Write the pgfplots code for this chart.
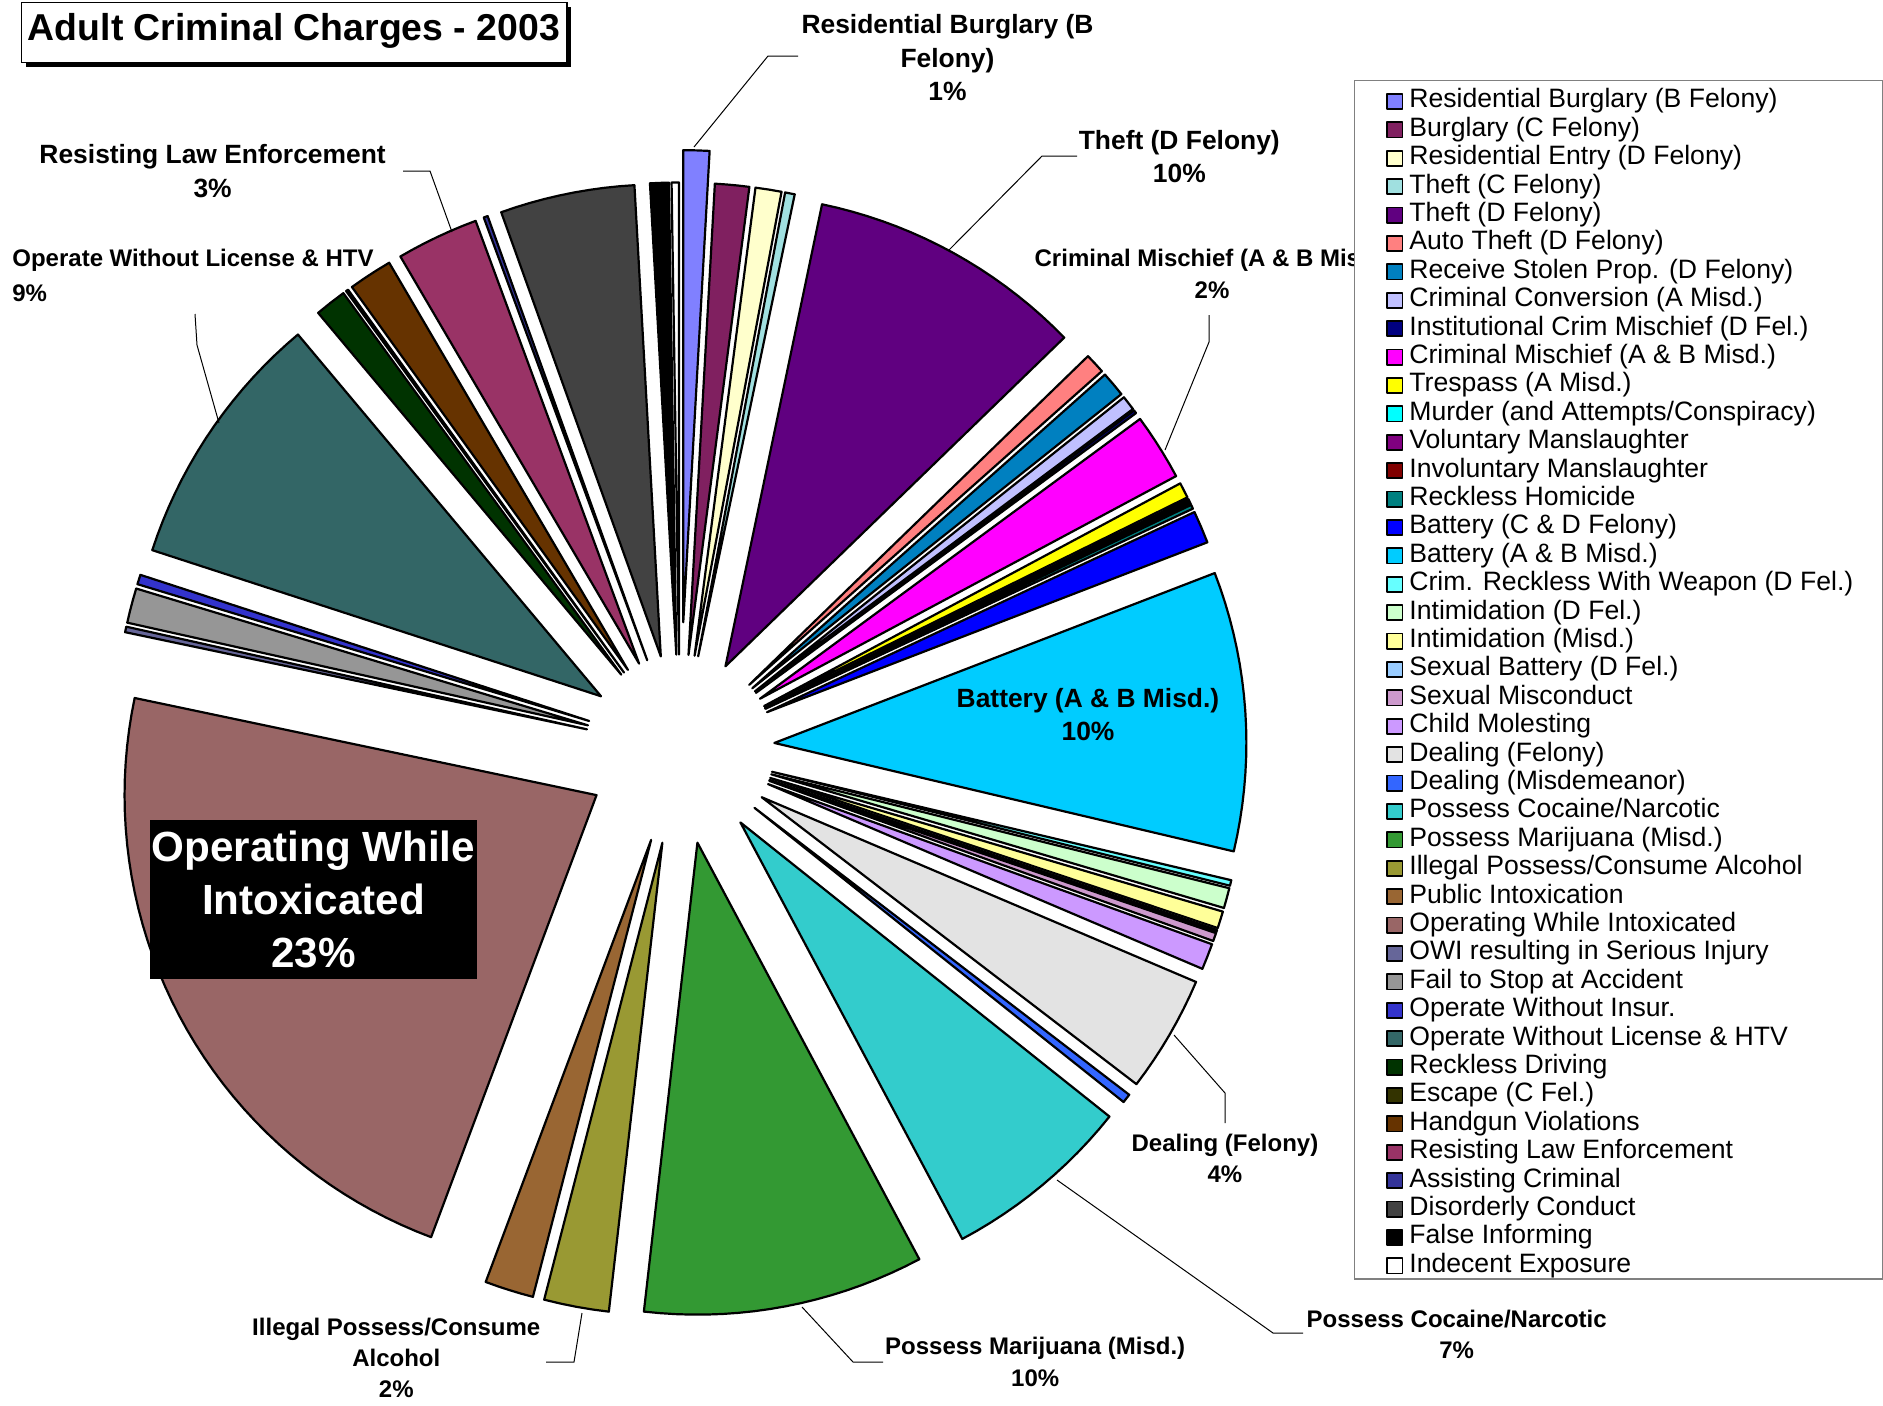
\documentclass[border=0pt]{standalone}
\usepackage{fontspec}
\setmainfont{Liberation Sans}
\usepackage{pgfplots}
\pgfplotsset{compat=1.18}

\definecolor{c01}{HTML}{8080FF}
\definecolor{c02}{HTML}{802060}
\definecolor{c03}{HTML}{FFFFCC}
\definecolor{c04}{HTML}{A0E0E0}
\definecolor{c05}{HTML}{600080}
\definecolor{c06}{HTML}{FF8080}
\definecolor{c07}{HTML}{0080C0}
\definecolor{c08}{HTML}{C0C0FF}
\definecolor{c09}{HTML}{000080}
\definecolor{c10}{HTML}{FF00FF}
\definecolor{c11}{HTML}{FFFF00}
\definecolor{c12}{HTML}{00FFFF}
\definecolor{c13}{HTML}{800080}
\definecolor{c14}{HTML}{800000}
\definecolor{c15}{HTML}{008080}
\definecolor{c16}{HTML}{0000FF}
\definecolor{c17}{HTML}{00CCFF}
\definecolor{c18}{HTML}{66FFFF}
\definecolor{c19}{HTML}{CCFFCC}
\definecolor{c20}{HTML}{FFFF99}
\definecolor{c21}{HTML}{99CCFF}
\definecolor{c22}{HTML}{CC99CC}
\definecolor{c23}{HTML}{CC99FF}
\definecolor{c24}{HTML}{E3E3E3}
\definecolor{c25}{HTML}{3366FF}
\definecolor{c26}{HTML}{33CCCC}
\definecolor{c27}{HTML}{339933}
\definecolor{c28}{HTML}{999933}
\definecolor{c29}{HTML}{996633}
\definecolor{c30}{HTML}{996666}
\definecolor{c31}{HTML}{666699}
\definecolor{c32}{HTML}{969696}
\definecolor{c33}{HTML}{3333CC}
\definecolor{c34}{HTML}{336666}
\definecolor{c35}{HTML}{003300}
\definecolor{c36}{HTML}{333300}
\definecolor{c37}{HTML}{663300}
\definecolor{c38}{HTML}{993366}
\definecolor{c39}{HTML}{333399}
\definecolor{c40}{HTML}{424242}
\definecolor{c41}{HTML}{000000}
\definecolor{c42}{HTML}{FFFFFF}

% centre of the pie (pixels), radius
\def\pcx{679.7}
\def\pcy{749.4}
\def\prad{472}
\gdef\cum{0}

% #1 share (percent), #2 colour, #3 explosion (px), #4 legend text
\newcommand{\slice}[4]{%
  \pgfmathsetmacro\sa{\cum*3.6}%
  \pgfmathsetmacro\sb{(\cum+#1)*3.6}%
  \pgfmathsetmacro\sm{(\sa+\sb)/2}%
  \pgfmathsetmacro\scx{\pcx+#3*sin(\sm)}%
  \pgfmathsetmacro\scy{\pcy-#3*cos(\sm)}%
  \pgfmathtruncatemacro\ns{max(2,ceil((\sb-\sa)/2)+1)}%
  \edef\doplot{\noexpand\addplot[fill=#2, draw=black, line width=1.1pt, line join=round,
     domain=\sa:\sb, samples=\ns, variable=\noexpand\t]
     ({\scx+\prad*sin(\noexpand\t)},{\scy-\prad*cos(\noexpand\t)}) -- (axis cs:\scx,\scy) -- cycle;}%
  \doplot
  \addlegendentry{#4}%
  \pgfmathsetmacro\newcum{\cum+#1}\global\let\cum\newcum
}

\newcommand\lbl{\fontsize{13.2}{16.8}\selectfont\bfseries}
\newcommand\lbs{\fontsize{12.0}{15.6}\selectfont\bfseries}

\begin{document}
\begin{tikzpicture}
\begin{axis}[
  scale only axis, width=941.5pt, height=702.5pt,
  xmin=0, xmax=1883, ymin=0, ymax=1405, y dir=reverse,
  hide axis, clip=false,
  legend style={at={(axis cs:1386,88.5)}, anchor=north west, draw=none, fill=none,
     inner sep=0pt, row sep=1.7pt, column sep=3pt,
     font=\fontsize{13.3}{14}\selectfont,
     nodes={inner sep=0pt, text height=9.5pt, text depth=3pt}},
  legend cell align=left,
  legend image code/.code={\draw[#1, line width=0.9pt] (0pt,-3.8pt) rectangle (7.6pt,3.8pt);},
]
\slice{0.89}{c01}{127.3}{Residential Burglary (B Felony)}
\slice{1.17}{c02}{94.9}{Burglary (C Felony)}
\slice{0.89}{c03}{94.9}{Residential Entry (D Felony)}
\slice{0.33}{c04}{94.9}{Theft (C Felony)}
\slice{9.46}{c05}{94.9}{Theft (D Felony)}
\slice{0.69}{c06}{94.9}{Auto Theft (D Felony)}
\slice{0.86}{c07}{94.9}{Receive Stolen Prop. (D Felony)}
\slice{0.50}{c08}{94.9}{Criminal Conversion (A Misd.)}
\slice{0.11}{c09}{94.9}{Institutional Crim Mischief (D Fel.)}
\slice{2.28}{c10}{94.9}{Criminal Mischief (A \& B Misd.)}
\slice{0.53}{c11}{94.9}{Trespass (A Misd.)}
\slice{0.08}{c12}{94.9}{Murder (and Attempts/Conspiracy)}
\slice{0.06}{c13}{94.9}{Voluntary Manslaughter}
\slice{0.04}{c14}{94.9}{Involuntary Manslaughter}
\slice{0.14}{c15}{94.9}{Reckless Homicide}
\slice{1.11}{c16}{94.9}{Battery (C \& D Felony)}
\slice{9.55}{c17}{94.9}{Battery (A \& B Misd.)}
\slice{0.19}{c18}{94.9}{Crim. Reckless With Weapon (D Fel.)}
\slice{0.69}{c19}{94.9}{Intimidation (D Fel.)}
\slice{0.58}{c20}{94.9}{Intimidation (Misd.)}
\slice{0.08}{c21}{94.9}{Sexual Battery (D Fel.)}
\slice{0.28}{c22}{94.9}{Sexual Misconduct}
\slice{0.89}{c23}{94.9}{Child Molesting}
\slice{4.00}{c24}{94.9}{Dealing (Felony)}
\slice{0.31}{c25}{94.9}{Dealing (Misdemeanor)}
\slice{6.50}{c26}{94.9}{Possess Cocaine/Narcotic}
\slice{9.60}{c27}{94.9}{Possess Marijuana (Misd.)}
\slice{2.22}{c28}{94.9}{Illegal Possess/Consume Alcohol}
\slice{1.67}{c29}{94.9}{Public Intoxication}
\slice{22.60}{c30}{94.9}{Operating While Intoxicated}
\slice{0.19}{c31}{94.9}{OWI resulting in Serious Injury}
\slice{1.19}{c32}{94.9}{Fail to Stop at Accident}
\slice{0.33}{c33}{94.9}{Operate Without Insur.}
\slice{8.89}{c34}{94.9}{Operate Without License \& HTV}
\slice{1.08}{c35}{94.9}{Reckless Driving}
\slice{0.08}{c36}{94.9}{Escape (C Fel.)}
\slice{1.50}{c37}{94.9}{Handgun Violations}
\slice{2.81}{c38}{94.9}{Resisting Law Enforcement}
\slice{0.14}{c39}{94.9}{Assisting Criminal}
\slice{4.60}{c40}{94.9}{Disorderly Conduct}
\slice{0.64}{c41}{94.9}{False Informing}
\slice{0.25}{c42}{94.9}{Indecent Exposure}

% leader lines
\draw[line width=0.5pt] (axis cs:798,56) -- (axis cs:768,56) -- (axis cs:694,147);
\draw[line width=0.5pt] (axis cs:1077,156) -- (axis cs:1042,156) -- (axis cs:949,250);
\draw[line width=0.5pt] (axis cs:1209,315) -- (axis cs:1209,342) -- (axis cs:1165,450);
\draw[line width=0.5pt] (axis cs:1225,1123) -- (axis cs:1225,1093) -- (axis cs:1174,1035);
\draw[line width=0.5pt] (axis cs:1303,1333) -- (axis cs:1273,1333) -- (axis cs:1057,1180);
\draw[line width=0.5pt] (axis cs:883,1362) -- (axis cs:853,1362) -- (axis cs:802,1307);
\draw[line width=0.5pt] (axis cs:546,1362) -- (axis cs:574,1362) -- (axis cs:582,1313);
\draw[line width=0.5pt] (axis cs:195,314) -- (axis cs:197,345) -- (axis cs:219,423);
\draw[line width=0.5pt] (axis cs:403,171) -- (axis cs:430,171) -- (axis cs:452,232);

% labels
\node[font=\lbl, align=center] at (axis cs:947.5,57.6) {Residential Burglary (B\\Felony)\\1\%};
\node[font=\lbl, align=center] at (axis cs:1179.3,156.7) {Theft (D Felony)\\10\%};
\node[font=\lbs, align=center] at (axis cs:1212,273.8) {Criminal Mischief (A \& B Misd.)\\2\%};
\node[font=\lbl, align=center] at (axis cs:1088,714.6) {Battery (A \& B Misd.)\\10\%};
\node[font=\lbs, align=center] at (axis cs:1224.9,1158.2) {Dealing (Felony)\\4\%};
\node[font=\lbs, align=center] at (axis cs:1456.7,1334.2) {Possess Cocaine/Narcotic\\7\%};
\node[font=\lbs, align=center] at (axis cs:1035.2,1361.8) {Possess Marijuana (Misd.)\\10\%};
\node[font=\lbs, align=center] at (axis cs:396.3,1358) {Illegal Possess/Consume\\Alcohol\\2\%};
\node[font=\lbl, align=center] at (axis cs:212.6,171.1) {Resisting Law Enforcement\\3\%};
\node[font=\lbs, anchor=west, inner sep=0pt] at (axis cs:12,260.6) {Operate Without License \& HTV};
\node[font=\lbs, anchor=west, inner sep=0pt] at (axis cs:12,293) {9\%};
\node[fill=black, text=white, inner sep=0pt, align=center,
      font=\fontsize{21.1}{26.4}\selectfont\bfseries,
      minimum width=163.3pt, minimum height=79.2pt] at (axis cs:313.4,899.5)
      {Operating While\\Intoxicated\\23\%};

% title
\fill[black] (axis cs:26,7) rectangle (axis cs:571,67);
\draw[fill=white, line width=0.8pt] (axis cs:21.6,2.4) rectangle (axis cs:566.8,62.4);
\node[font=\fontsize{18.7}{22}\selectfont\bfseries] at (axis cs:294,31) {Adult Criminal Charges - 2003};

% legend frame
\draw[draw=gray, fill=white, line width=0.6pt] (axis cs:1354.6,80.5) rectangle (axis cs:1882.5,1279);
\end{axis}
\pgfresetboundingbox
\path (0,0) rectangle (941.5pt,702.5pt);
\end{tikzpicture}
\end{document}
